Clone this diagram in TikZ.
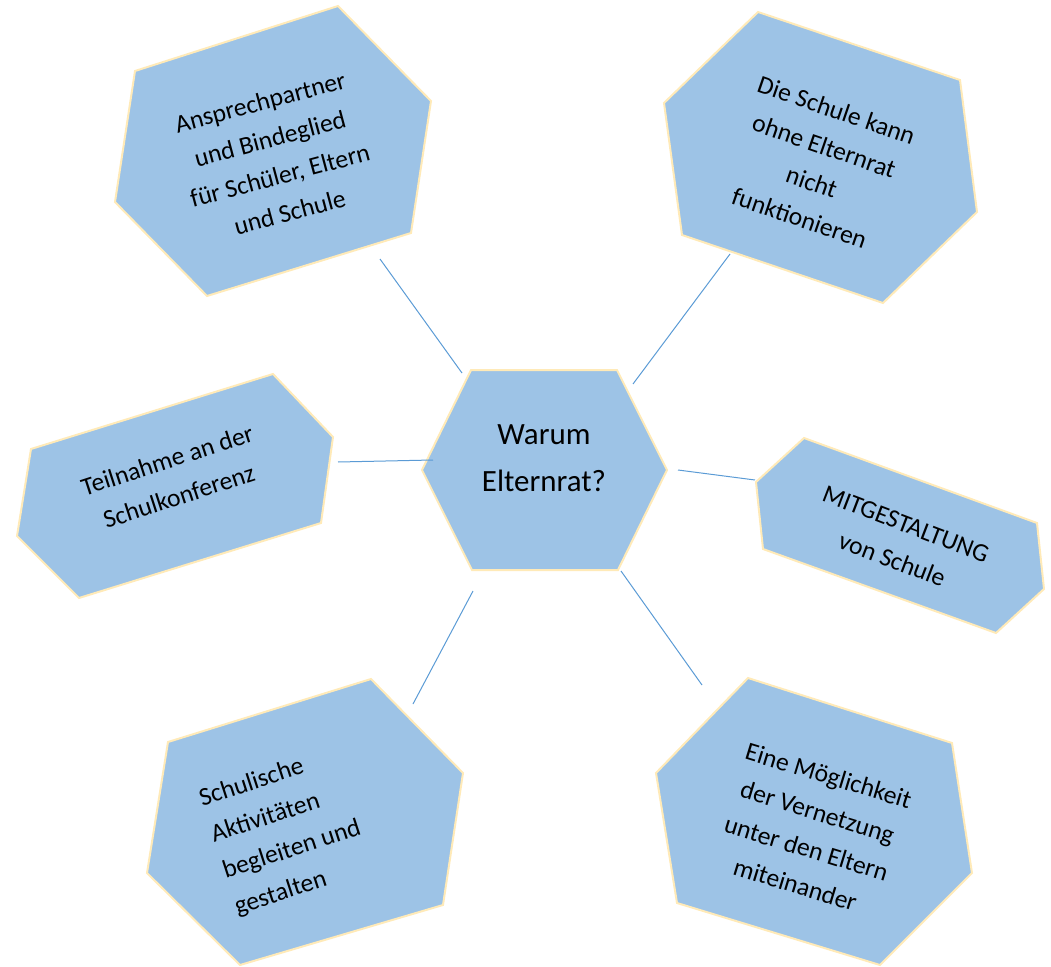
\documentclass[tikz,border=0pt]{standalone}
\usepackage{fontspec}
\setmainfont{Carlito}
\usetikzlibrary{positioning}

\definecolor{hexfill}{HTML}{9DC3E6}
\definecolor{hexrim}{HTML}{FFEAB8}
\definecolor{linkblue}{HTML}{5B9BD5}

\begin{document}
\begin{tikzpicture}[
  x=0.75pt,y=-0.75pt,
  hexa/.style={draw=hexrim,line width=1.5pt,fill=hexfill,line join=miter},
  hextext/.style={align=center,inner sep=0pt,font=\fontsize{19.2}{28.5}\selectfont},
  hubtext/.style={align=center,inner sep=0pt,font=\fontsize{23.2}{35}\selectfont},
  link/.style={draw=linkblue,line width=0.75pt}
]
\useasboundingbox (0,0) rectangle (1051,967);

% ----- Sechsecke -----------------------------------------------------------
\draw[hexa] (471,370) -- (617,370) -- (667,470) -- (618,570) -- (472,570) -- (422,470) -- cycle;
\draw[hexa] (338,6) -- (431,101) -- (411,233) -- (207,296) -- (115,202) -- (135,71) -- cycle;
\draw[hexa] (758,12) -- (960,80) -- (977,212) -- (883,303) -- (682,235) -- (664,103) -- cycle;
\draw[hexa] (273,374) -- (333,437) -- (321,523) -- (79,598) -- (17,536) -- (31,449) -- cycle;
\draw[hexa] (804,438) -- (1037,523) -- (1044,589) -- (996,633) -- (763,549) -- (756,482) -- cycle;
\draw[hexa] (371,679) -- (463,773) -- (443,905) -- (240,965) -- (147,873) -- (168,742) -- cycle;
\draw[hexa] (748,678) -- (952,743) -- (972,873) -- (880,965) -- (677,903) -- (656,773) -- cycle;

% ----- Texte ---------------------------------------------------------------
\node[hubtext]            (warum)         at (544,458) {Warum\\Elternrat?};
\node[hextext,rotate=15]  (partner)       at (275,157) {Ansprechpartner\\und Bindeglied\\für Schüler, Eltern\\und Schule};
\node[hextext,rotate=-19] (schule)        at (818,164) {Die Schule kann\\ohne Elternrat\\nicht\\funktionieren};
\node[hextext,rotate=18]  (konferenz)     at (173,478) {Teilnahme an der\\Schulkonferenz};
\node[hextext,rotate=-21] (mitgestaltung) at (899,542) {MITGESTALTUNG\\von Schule};
\node[hextext,rotate=18,align=left] (aktiv) at (286,832) {Schulische\\Aktivitäten\\begleiten und\\gestalten};
\node[hextext,rotate=-17] (vernetzung)    at (812,830) {Eine Möglichkeit\\der Vernetzung\\unter den Eltern\\miteinander};

% ----- Enden der Verbindungen ----------------------------------------------
\coordinate (warumNW) at (462,373);  \coordinate (partnerS)   at (380,259);
\coordinate (warumNE) at (633,384);  \coordinate (schuleS)    at (730,254);
\coordinate (warumW)  at (433,460);  \coordinate (konferenzE) at (338,462);
\coordinate (warumE)  at (678,470);  \coordinate (mitgestW)   at (755,480);
\coordinate (warumSW) at (473,591);  \coordinate (aktivN)     at (413,704);
\coordinate (warumSE) at (621,571);  \coordinate (vernetzN)   at (702,685);

% ----- Verbindungen --------------------------------------------------------
\draw[link] (warumNW) -- (partnerS);
\draw[link] (warumNE) -- (schuleS);
\draw[link] (warumW)  -- (konferenzE);
\draw[link] (warumE)  -- (mitgestW);
\draw[link] (warumSW) -- (aktivN);
\draw[link] (warumSE) -- (vernetzN);

\end{tikzpicture}
\end{document}
